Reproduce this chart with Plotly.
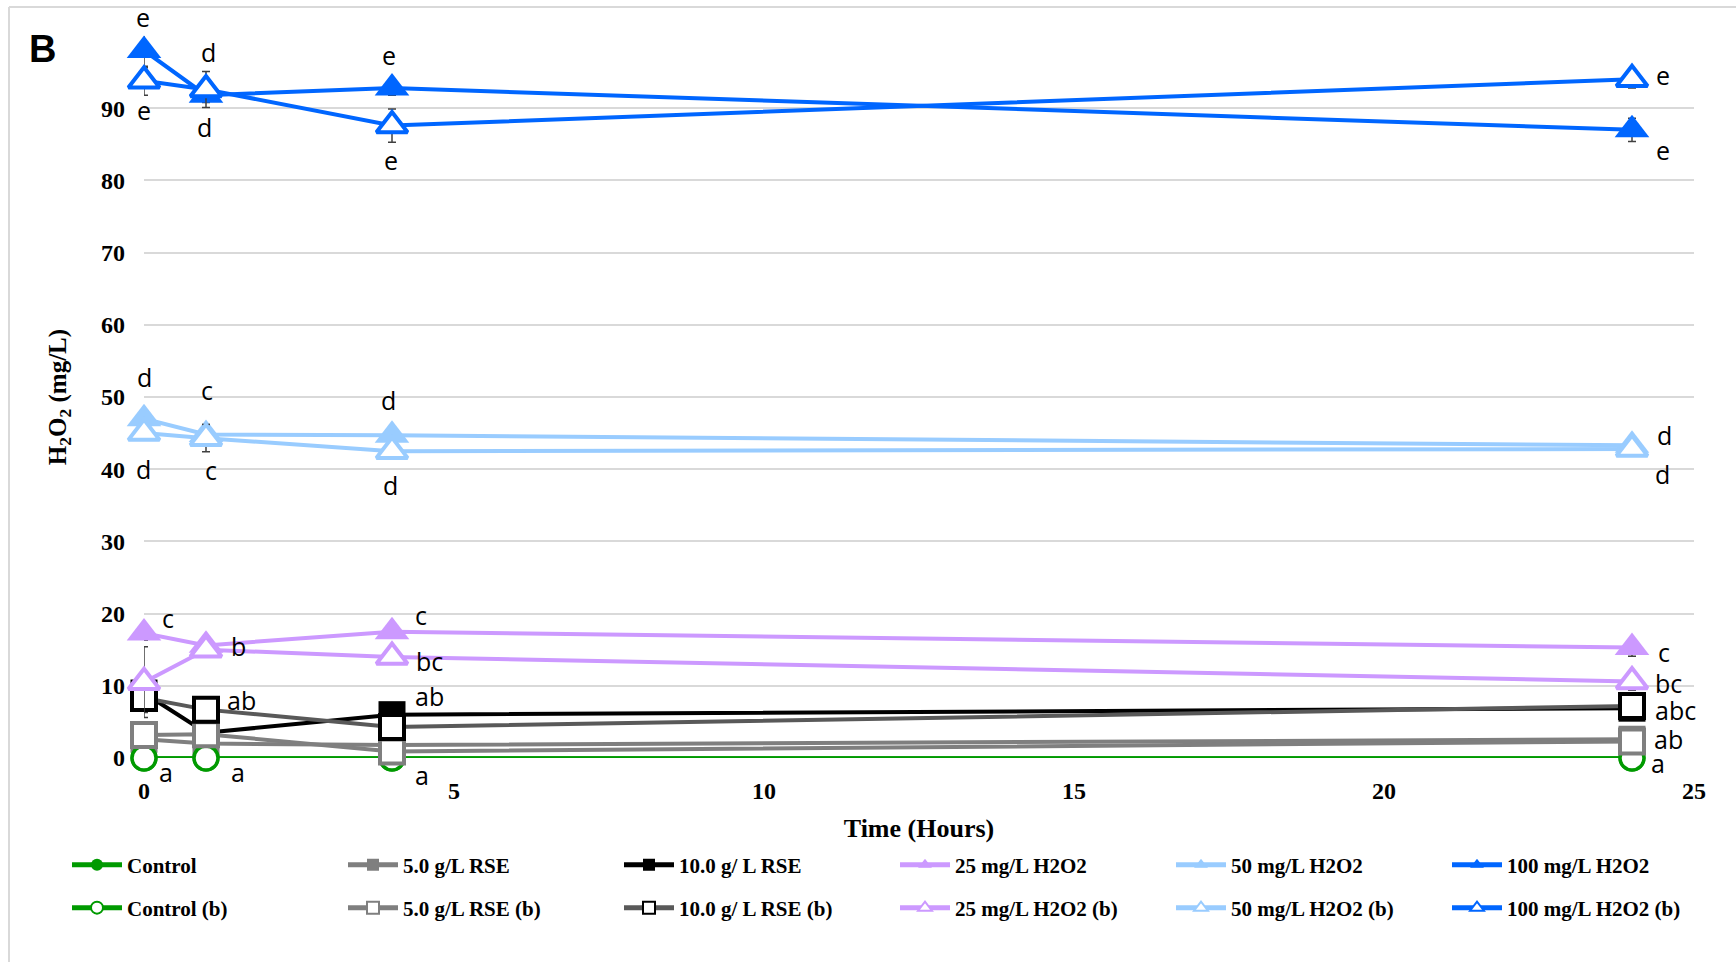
import plotly.graph_objects as go

# ---------------- data ----------------
hours = [0, 1, 4, 24]

control = [0, 0, 0, 0]
control_b = [0, 0, 0, 0]
rse5 = [2.6, 2.0, 1.8, 2.6]
rse5_b = [3.2, 3.3, 0.9, 2.3]
rse10 = [9.0, 3.5, 6.0, 6.9]
rse10_b = [8.3, 6.7, 4.3, 7.2]
h25 = [17.3, 15.6, 17.5, 15.3]
h25_b = [10.5, 15.0, 14.0, 10.6]
h50 = [47.0, 44.8, 44.7, 43.3]
h50_b = [45.0, 44.3, 42.5, 42.8]
h100 = [98.0, 91.8, 92.8, 87.0]
h100_b = [93.8, 92.6, 87.6, 94.0]

err_control = [0, 0, 0, 0]
err_control_b = [0, 0, 0, 0]
err_rse5 = [0.6, 0.5, 0.5, 0.5]
err_rse5_b = [0.8, 0.6, 0.5, 0.5]
err_rse10 = [1.0, 0.8, 0.6, 0.6]
err_rse10_b = [2.0, 0.8, 0.8, 0.6]
err_h25 = [1.0, 0.6, 0.6, 1.2]
err_h25_b = [4.9, 0.6, 0.8, 1.2]
err_h50 = [1.0, 1.4, 1.0, 0.8]
err_h50_b = [1.0, 1.9, 1.0, 0.8]
err_h100 = [2.4, 1.0, 1.0, 1.6]
err_h100_b = [2.0, 2.5, 2.3, 1.2]

# y-axis ticks (top gridline at 100 carries no label)
y_tickvals = [0, 10, 20, 30, 40, 50, 60, 70, 80, 90, 100]
y_ticktext = ["0", "10", "20", "30", "40", "50", "60", "70", "80", "90", ""]
x_tickvals = [0, 5, 10, 15, 20, 25]

# significance letters (None = no letter)
let_control = ["a", "a", "a", "a"]
let_rse10 = [None, None, "ab", None]
let_rse10_b = [None, "ab", None, "abc"]
let_rse5_b = [None, None, None, "ab"]
let_h25 = ["c", "b", "c", "c"]
let_h25_b = [None, None, "bc", "bc"]
let_h50 = ["d", "c", "d", "d"]
let_h50_b = ["d", "c", "d", "d"]
let_h100 = ["e", "d", "e", "e"]
let_h100_b = ["e", "d", "e", "e"]

# ---------------- styling ----------------
GREEN = "#009A00"
GRAY = "#7F7F7F"
DGRAY = "#595959"
BLACK = "#000000"
LILAC = "#CC99FF"
LBLUE = "#99CCFF"
BLUE = "#0066FF"

SERIF = "Liberation Serif"
SANS = "Open Sans"

fig = go.Figure()


def add(name, y, err, color, symbol, filled, legend, line_color=None, lw=4, size=27, mlw=4):
    lc = line_color or color
    marker = dict(symbol=symbol, size=size,
                  color=color if filled else "white",
                  line=dict(color=color, width=0 if filled else mlw))
    fig.add_trace(go.Scatter(
        x=hours, y=y, name=name, mode="lines+markers",
        line=dict(color=lc, width=lw),
        marker=marker, cliponaxis=False, legend=legend,
        error_y=dict(type="data", array=err, visible=True,
                     color="#404040", thickness=1.5, width=4),
    ))


# filled series
add("Control", control, err_control, GREEN, "circle", True, "legend", lw=3.5)
add("5.0 g/L RSE", rse5, err_rse5, GRAY, "square", True, "legend")
add("10.0 g/ L RSE", rse10, err_rse10, BLACK, "square", True, "legend")
add("25 mg/L H2O2", h25, err_h25, LILAC, "triangle-up", True, "legend", size=30)
add("50 mg/L H2O2", h50, err_h50, LBLUE, "triangle-up", True, "legend", size=30)
add("100 mg/L H2O2", h100, err_h100, BLUE, "triangle-up", True, "legend", size=30)
# open (b) series
add("Control (b)", control_b, err_control_b, GREEN, "circle", False, "legend2", lw=3.5, size=24, mlw=3.5)
add("5.0 g/L RSE (b)", rse5_b, err_rse5_b, GRAY, "square", False, "legend2", size=24)
add("10.0 g/ L RSE (b)", rse10_b, err_rse10_b, BLACK, "square", False, "legend2", line_color=DGRAY, size=24)
add("25 mg/L H2O2 (b)", h25_b, err_h25_b, LILAC, "triangle-up", False, "legend2", size=27)
add("50 mg/L H2O2 (b)", h50_b, err_h50_b, LBLUE, "triangle-up", False, "legend2", size=27)
add("100 mg/L H2O2 (b)", h100_b, err_h100_b, BLUE, "triangle-up", False, "legend2", size=27)

# letter offsets in pixels (dx right, dy down) per series/point
label_sets = [
    (control, let_control, [(22, 14), (32, 14), (30, 17), (26, 5)]),
    (rse10, let_rse10, [None, None, (37, -19), None]),
    (rse10_b, let_rse10_b, [None, (35, -10), None, (43, 4)]),
    (rse5_b, let_rse5_b, [None, None, None, (36, -2)]),
    (h25, let_h25, [(24, -15), (32, 1), (29, -17), (32, 4)]),
    (h25_b, let_h25_b, [None, None, (37, 4), (36, 2)]),
    (h50, let_h50, [(0, -42), (1, -45), (-4, -35), (32, -10)]),
    (h50_b, let_h50_b, [(-1, 36), (5, 32), (-2, 34), (30, 25)]),
    (h100, let_h100, [(-1, -33), (-2, 32), (-3, -33), (31, 20)]),
    (h100_b, let_h100_b, [(0, 29), (2, -37), (-1, 34), (31, -4)]),
]

annotations = []
for ys, letters, offs in label_sets:
    for i, (t, v, txt) in enumerate(zip(hours, ys, letters)):
        if txt is None:
            continue
        dx, dy = offs[i]
        annotations.append(dict(
            x=t, y=v, xref="x", yref="y", text=txt, showarrow=False,
            xanchor="center", yanchor="middle", xshift=dx, yshift=-dy,
            font=dict(family=SANS, size=25, color="black"),
        ))

annotations.append(dict(
    xref="paper", yref="paper", x=(42 - 144) / 1550, y=(758 - 49) / 722,
    text="<b>B</b>", showarrow=False, xanchor="center", yanchor="middle",
    font=dict(family="Liberation Sans", size=38, color="black"),
))

legend_common = dict(
    orientation="h", xref="paper", yref="paper",
    x=(67 - 144) / 1550, xanchor="left", yanchor="middle",
    entrywidth=211, entrywidthmode="pixels", itemwidth=50,
    itemsizing="constant",
    font=dict(family=SERIF, size=21, color="black", weight="bold"),
    bgcolor="rgba(0,0,0,0)",
)

fig.update_layout(
    width=1736, height=962,
    margin=dict(l=144, r=42, t=36, b=204),
    paper_bgcolor="white", plot_bgcolor="white",
    showlegend=True,
    annotations=annotations,
    xaxis=dict(
        range=[0, 25], tickvals=x_tickvals, showgrid=False,
        zeroline=False, showline=False, ticks="",
        tickfont=dict(family=SERIF, size=24, color="black", weight="bold"),
        ticklabelstandoff=16,
        title=dict(text="<b>Time (Hours)</b>", standoff=15,
                   font=dict(family=SERIF, size=26, color="black")),
    ),
    yaxis=dict(
        range=[0, 100], tickvals=y_tickvals, ticktext=y_ticktext,
        showgrid=True, gridcolor="#D9D9D9", gridwidth=2,
        zeroline=False, showline=False, ticks="",
        tickfont=dict(family=SERIF, size=24, color="black", weight="bold"),
        ticklabelstandoff=18,
        title=dict(text="<b>H<sub>2</sub>O<sub>2</sub> (mg/L)</b>", standoff=27,
                   font=dict(family=SERIF, size=25, color="black")),
    ),
    legend=dict(legend_common, y=(758 - 865) / 722),
    legend2=dict(legend_common, y=(758 - 908) / 722),
    shapes=[
        dict(type="line", xref="paper", yref="paper",
             x0=(9 - 144) / 1550, x1=(1736 - 144) / 1550,
             y0=(758 - 7) / 722, y1=(758 - 7) / 722,
             line=dict(color="#D9D9D9", width=2), layer="below"),
        dict(type="line", xref="paper", yref="paper",
             x0=(9 - 144) / 1550, x1=(9 - 144) / 1550,
             y0=(758 - 7) / 722, y1=(758 - 962) / 722,
             line=dict(color="#D9D9D9", width=2), layer="below"),
    ],
)

fig.write_html("out.html")
